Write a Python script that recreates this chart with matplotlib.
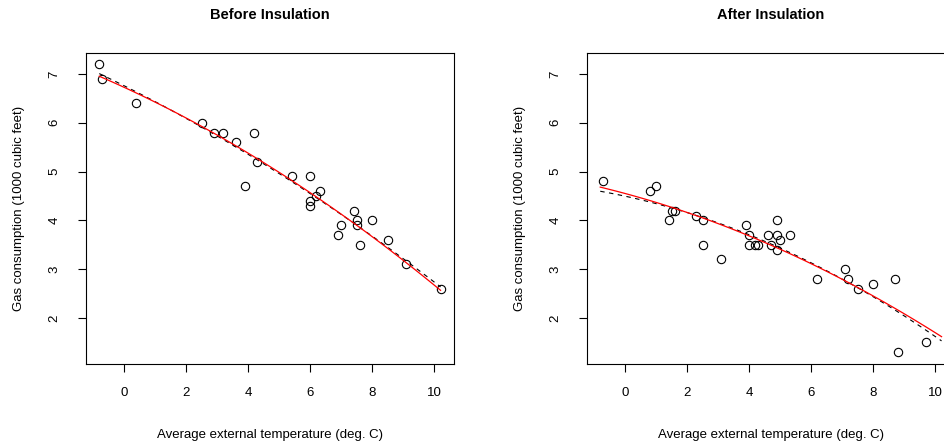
import numpy as np
import matplotlib
matplotlib.use('Agg')
import matplotlib.pyplot as plt

# ── Data (whiteside: weekly gas consumption vs outside temperature) ──────────
before_temp = [-0.8, -0.7, 0.4, 2.5, 2.9, 3.2, 3.6, 3.9, 4.2, 4.3, 5.4, 6.0, 6.0,
               6.0, 6.2, 6.3, 6.9, 7.0, 7.4, 7.5, 7.5, 7.6, 8.0, 8.5, 9.1, 10.2]
before_gas = [7.2, 6.9, 6.4, 6.0, 5.8, 5.8, 5.6, 4.7, 5.8, 5.2, 4.9, 4.9, 4.3,
              4.4, 4.5, 4.6, 3.7, 3.9, 4.2, 4.0, 3.9, 3.5, 4.0, 3.6, 3.1, 2.6]
after_temp = [-0.7, 0.8, 1.0, 1.4, 1.5, 1.6, 2.3, 2.5, 2.5, 3.1, 3.9, 4.0, 4.0,
              4.2, 4.3, 4.6, 4.7, 4.9, 4.9, 4.9, 5.0, 5.3, 6.2, 7.1, 7.2, 7.5,
              8.0, 8.7, 8.8, 9.7]
after_gas = [4.8, 4.6, 4.7, 4.0, 4.2, 4.2, 4.1, 4.0, 3.5, 3.2, 3.9, 3.5, 3.7,
             3.5, 3.5, 3.7, 3.5, 3.4, 3.7, 4.0, 3.6, 3.7, 2.8, 3.0, 2.8, 2.6,
             2.7, 2.8, 1.3, 1.5]
x_ticks = [0, 2, 4, 6, 8, 10]
y_ticks = [2, 3, 4, 5, 6, 7]

# ── Fits ─────────────────────────────────────────────────────────────────────
# red: separate intercept/slope per group, common quadratic term
tb, ta = np.array(before_temp), np.array(after_temp)
gb, ga = np.array(before_gas), np.array(after_gas)
nb, na = len(tb), len(ta)
X = np.zeros((nb + na, 5))
X[:nb, 0] = 1
X[nb:, 1] = 1
X[:nb, 2] = tb
X[nb:, 3] = ta
X[:, 4] = np.concatenate([tb, ta]) ** 2
coef = np.linalg.lstsq(X, np.concatenate([gb, ga]), rcond=None)[0]

all_t = before_temp + after_temp
all_g = before_gas + after_gas
xr = max(all_t) - min(all_t)
yr = max(all_g) - min(all_g)
xlim = (min(all_t) - 0.04 * xr, max(all_t) + 0.04 * xr)
ylim = (min(all_g) - 0.04 * yr, max(all_g) + 0.04 * yr)
grid = np.linspace(min(all_t), max(all_t), 100)

plt.rcParams['font.family'] = ['Liberation Sans', 'DejaVu Sans']

fig = plt.figure(figsize=(9.45, 4.44), dpi=100)
W, H = 945, 444
panels = [('Before Insulation', before_temp, before_gas, 85.6, 0),
          ('After Insulation', after_temp, after_gas, 586.6, 1)]

for title, t, g, left, k in panels:
    ax = fig.add_axes([left / W, 1 - 363.7 / H, 368.6 / W, 311 / H])
    ax.plot(t, g, 'o', mfc='none', mec='black', ms=6, mew=0.8)
    own = np.polyval(np.polyfit(t, g, 2), grid)      # dashed: own quadratic
    common = coef[k] + coef[2 + k] * grid + coef[4] * grid ** 2
    ax.plot(grid, own, color='black', lw=0.8, ls=(0, (4, 4)))
    ax.plot(grid, common, color='red', lw=0.9)
    ax.set_xlim(xlim)
    ax.set_ylim(ylim)
    ax.set_xticks(x_ticks)
    ax.set_yticks(y_ticks)
    ax.tick_params(direction='out', length=5.5, width=0.8, labelsize=9.5)
    ax.tick_params(axis='x', pad=11)
    ax.tick_params(axis='y', pad=12.5)
    for lab in ax.get_yticklabels():
        lab.set_rotation(90)
        lab.set_va('center')
    for s in ax.spines.values():
        s.set_linewidth(0.8)
    ax.set_title(title, fontsize=10.5, fontweight='bold', pad=24.5)
    ax.set_xlabel('Average external temperature (deg. C)', fontsize=9.5, labelpad=22)
    ax.set_ylabel('Gas consumption (1000 cubic feet)', fontsize=9.5, labelpad=17)

plt.savefig('out.png', dpi=100)
